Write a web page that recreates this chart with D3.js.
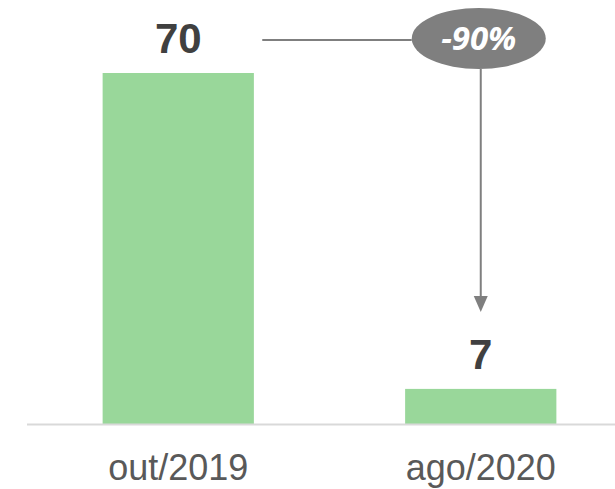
<!DOCTYPE html>
<html>
<head>
<meta charset="utf-8">
<script src="https://cdn.jsdelivr.net/npm/d3@7"></script>
<style>
  body { margin: 0; background: #fff; }
  svg { display: block; font-family: Arial, "Liberation Sans", sans-serif; }
</style>
</head>
<body>
<svg id="chart" width="615" height="489"></svg>
<script>
// data
var categories = ["out/2019", "ago/2020"]
var values = [70, 7]
var changeLabel = "-90%"

var svg = d3.select("#chart")
var width = 615, height = 489

var x = d3.scaleBand()
    .domain(categories)
    .range([27, 632])
    .paddingInner(0.5)
    .paddingOuter(0.25)

var y = d3.scaleLinear()
    .domain([0, 70])
    .range([424, 73])

// bars
svg.selectAll("rect.bar")
    .data(values)
    .enter()
    .append("rect")
    .attr("class", "bar")
    .attr("x", (d, i) => x(categories[i]))
    .attr("y", d => y(d))
    .attr("width", x.bandwidth())
    .attr("height", d => y(0) - y(d))
    .attr("fill", "#99d79a")

// baseline
svg.append("line")
    .attr("x1", 27).attr("x2", width)
    .attr("y1", y(0) + 0.5).attr("y2", y(0) + 0.5)
    .attr("stroke", "#d9d9d9")
    .attr("stroke-width", 2)

// value labels
svg.selectAll("text.val")
    .data(values)
    .enter()
    .append("text")
    .attr("class", "val")
    .attr("x", (d, i) => x(categories[i]) + x.bandwidth() / 2)
    .attr("y", d => y(d) - 20)
    .attr("text-anchor", "middle")
    .attr("font-size", 42)
    .attr("font-weight", "bold")
    .attr("fill", "#404040")
    .text(d => d)

// category labels
svg.selectAll("text.cat")
    .data(categories)
    .enter()
    .append("text")
    .attr("class", "cat")
    .attr("x", d => x(d) + x.bandwidth() / 2)
    .attr("y", y(0) + 56)
    .attr("text-anchor", "middle")
    .attr("font-size", 36)
    .attr("fill", "#595959")
    .text(d => d)

// change annotation
var c0 = x(categories[0]) + x.bandwidth() / 2
var c1 = x(categories[1]) + x.bandwidth() / 2
var lineY = y(values[0]) - 33
var ex = c1 - 2, ey = y(values[0]) - 34.5, rx = 67, ry = 30.5

svg.append("line")
    .attr("x1", c0 + 84).attr("x2", ex - rx)
    .attr("y1", lineY).attr("y2", lineY)
    .attr("stroke", "#7f7f7f")
    .attr("stroke-width", 2)

svg.append("line")
    .attr("x1", c1).attr("x2", c1)
    .attr("y1", ey + ry).attr("y2", y(values[1]) - 92)
    .attr("stroke", "#7f7f7f")
    .attr("stroke-width", 2)

var tipY = y(values[1]) - 77
svg.append("path")
    .attr("d", d3.line()([[c1 - 7, tipY - 16], [c1 + 7, tipY - 16], [c1, tipY]]) + "Z")
    .attr("fill", "#7f7f7f")

svg.append("ellipse")
    .attr("cx", ex).attr("cy", ey)
    .attr("rx", rx).attr("ry", ry)
    .attr("fill", "#7f7f7f")

svg.append("text")
    .attr("x", ex)
    .attr("y", ey + 11)
    .attr("text-anchor", "middle")
    .attr("font-family", "'Open Sans', sans-serif")
    .attr("font-size", 33)
    .attr("font-weight", "bold")
    .attr("font-style", "italic")
    .attr("fill", "#fff")
    .text(changeLabel)
</script>
</body>
</html>
